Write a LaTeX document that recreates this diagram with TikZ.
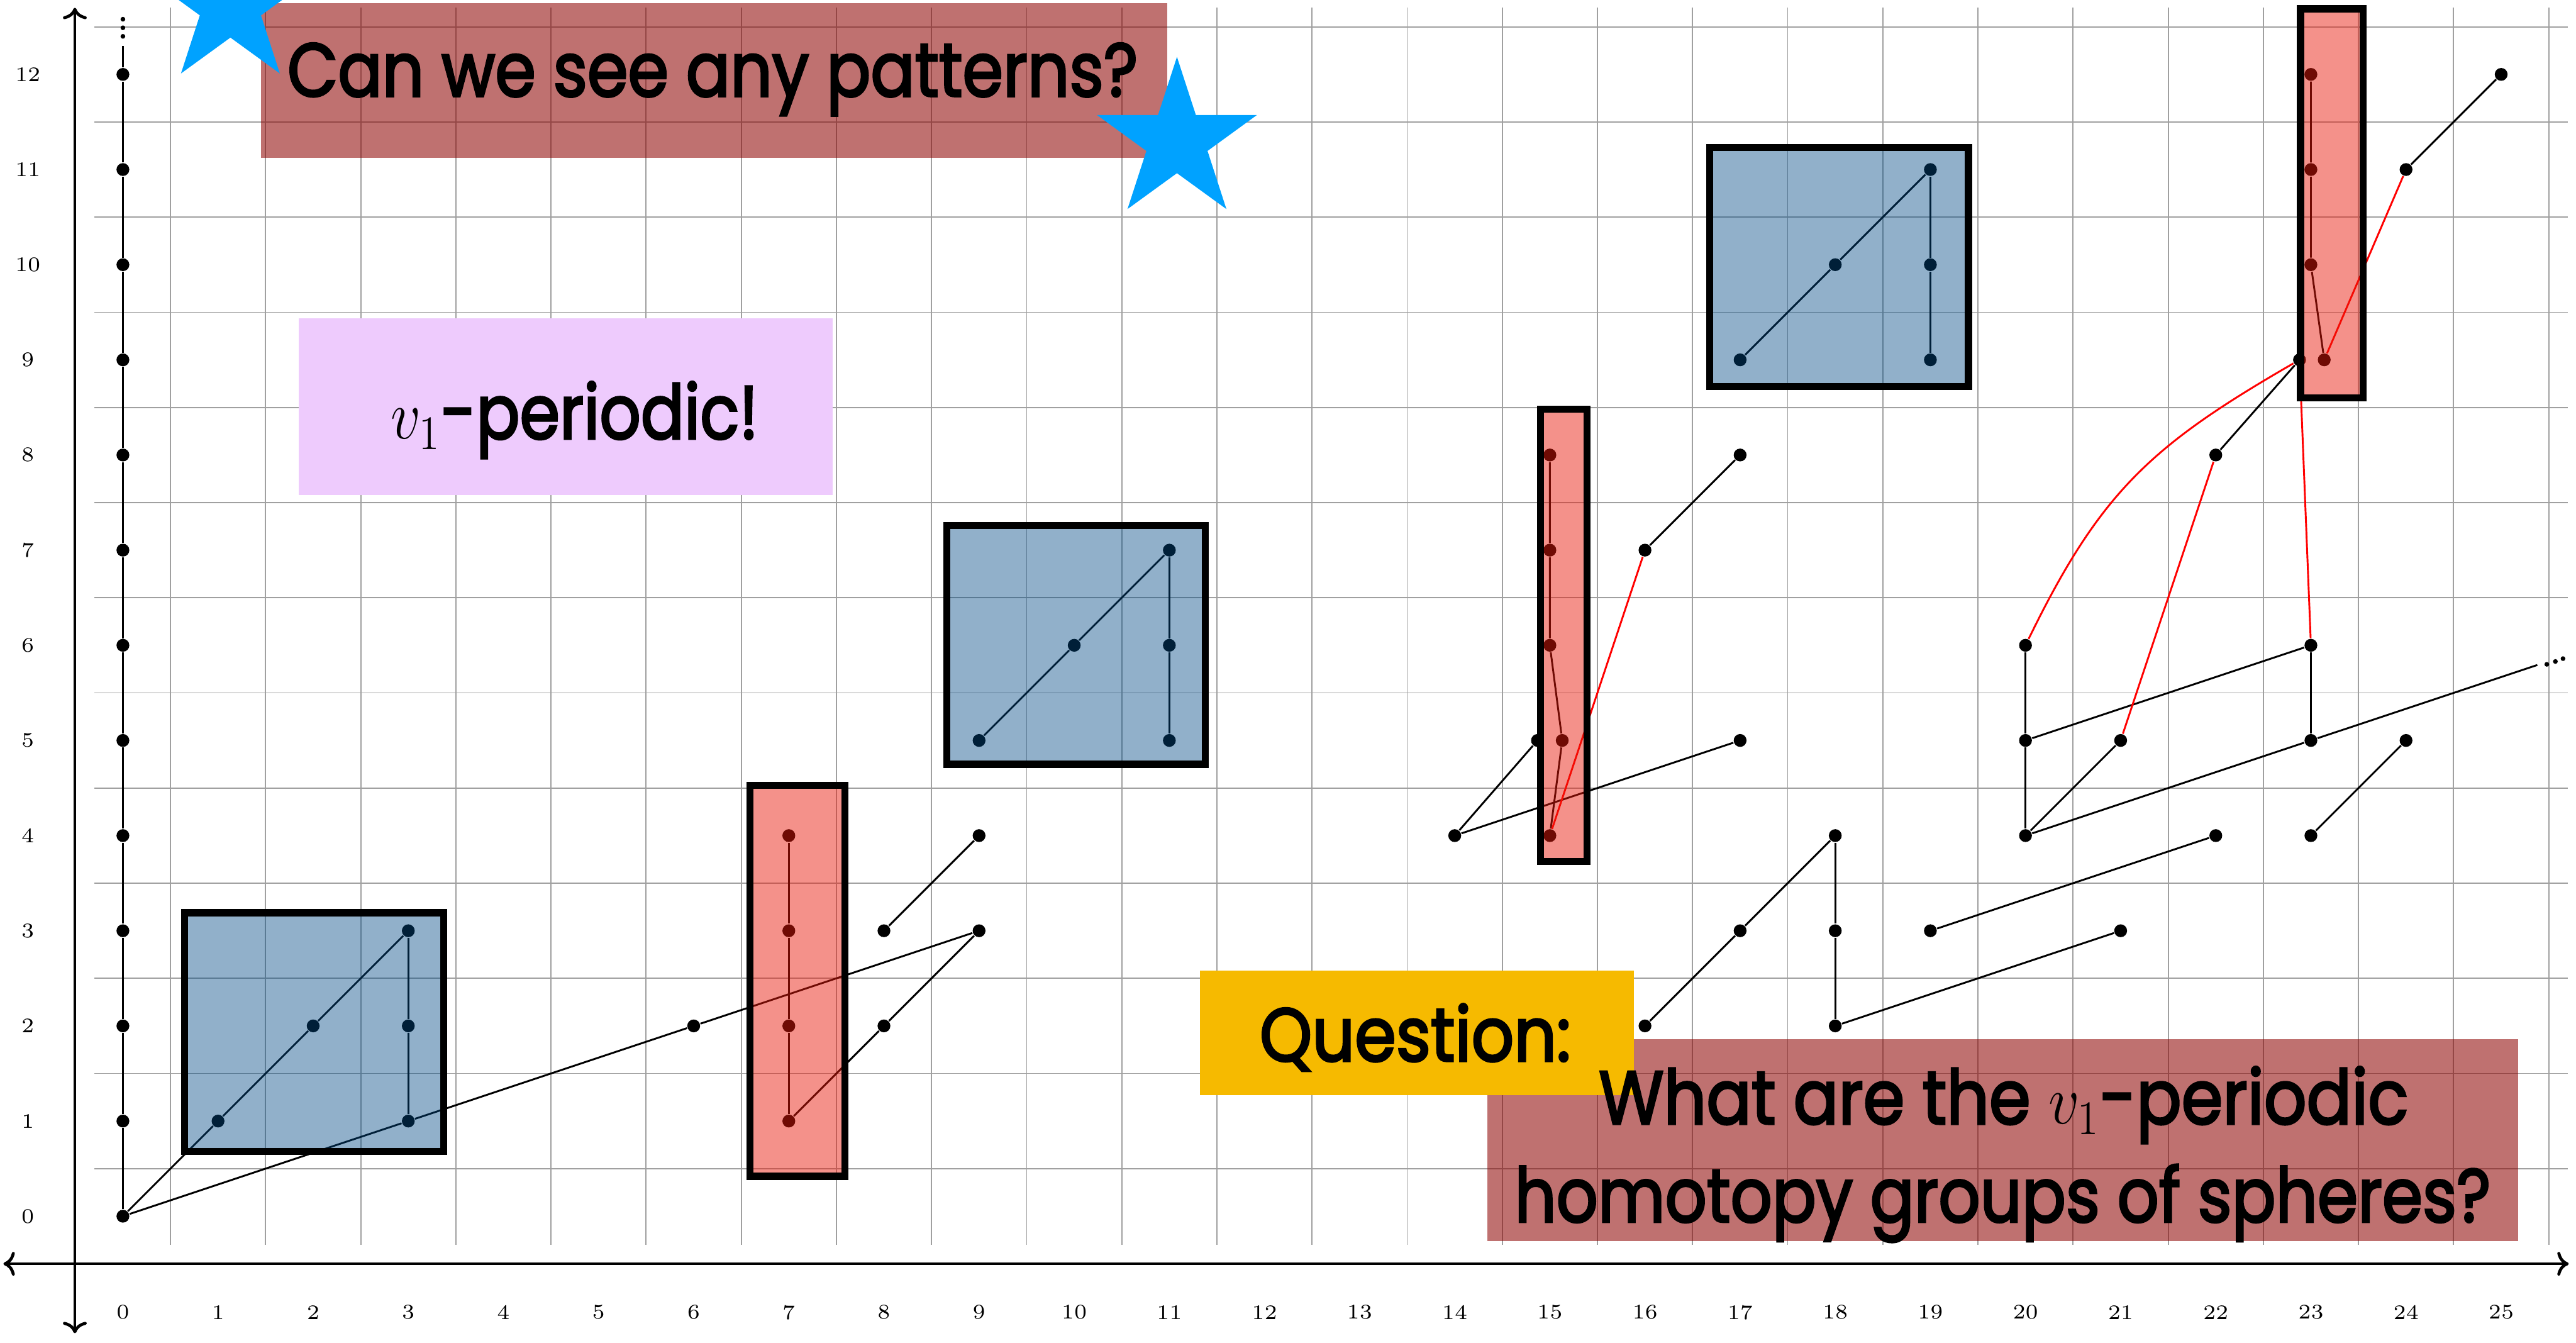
\documentclass[tikz,border=0pt]{standalone}
\usepackage{fontspec}
\usepackage{graphicx}
\newfontfamily\popfont{Poppins}[FakeBold=3]
\usetikzlibrary{arrows.meta}
\definecolor{boxblue}{RGB}{0,72,132}
\definecolor{boxred}{RGB}{233,25,10}
\definecolor{qbrown}{RGB}{140,2,0}
\definecolor{lav}{RGB}{238,203,253}
\definecolor{qyellow}{RGB}{246,186,0}
\definecolor{starblue}{RGB}{0,162,255}
\definecolor{gridgray}{RGB}{160,160,160}
\newcommand{\bigtxt}[2]{\resizebox{#1}{\height}{\popfont\fontsize{22.5}{26}\selectfont #2}}
\begin{document}
\begin{tikzpicture}[
  dot/.style={circle,fill=black,inner sep=0pt,minimum size=0.135cm},
  sdot/.style={circle,fill=black,inner sep=0pt,minimum size=0.05cm},
  edge/.style={line width=0.55pt},
  redge/.style={line width=0.55pt,red},
  axis/.style={line width=0.9pt,{Computer Modern Rightarrow[length=1.2mm,width=2.5mm]}-{Computer Modern Rightarrow[length=1.2mm,width=2.5mm]}},
  gridline/.style={gridgray,line width=0.35pt},
  tick/.style={inner sep=0pt,font=\fontsize{6.2}{7}\selectfont},
  bluebox/.style={fill=boxblue,fill opacity=0.43,draw=black,draw opacity=1,line width=0.075cm},
  redbox/.style={fill=boxred,fill opacity=0.48,draw=black,draw opacity=1,line width=0.075cm},
  brownbox/.style={fill=qbrown,fill opacity=0.56},
  txt/.style={anchor=base,inner sep=0pt}
]
\useasboundingbox (-1.292,-1.328) rectangle (25.787,12.782);
\clip (-1.292,-1.328) rectangle (25.787,12.782);

% grid
\foreach \x in {0,...,25} \draw[gridline] (\x+0.5,-0.3) -- (\x+0.5,12.7);
\foreach \y in {0,...,12} \draw[gridline] (-0.3,\y+0.5) -- (25.7,\y+0.5);

% tick labels
\foreach \x in {0,...,25} \node[tick] (xl\x) at (\x,-1.01) {\x};
\foreach \y in {0,...,12} \node[tick] (yl\y) at (-1.0,\y) {\y};

% axes
\coordinate (axL) at (-1.256,-0.5);
\coordinate (axR) at (25.71,-0.5);
\coordinate (ayB) at (-0.505,-1.23);
\coordinate (ayT) at (-0.505,12.70);
\draw[axis] (axL) -- (axR);
\draw[axis] (ayB) -- (ayT);

% dots
\foreach \k in {0,...,12} \node[dot] (a\k) at (0,\k) {};
\coordinate (atop) at (0,12.3);
\node[sdot] (vd1) at (0,12.40) {};
\node[sdot] (vd2) at (0,12.49) {};
\node[sdot] (vd3) at (0,12.58) {};
\node[dot] (b11) at (1,1) {};
\node[dot] (b22) at (2,2) {};
\node[dot] (b31) at (3,1) {};
\node[dot] (b32) at (3,2) {};
\node[dot] (b33) at (3,3) {};
\node[dot] (c62) at (6,2) {};
\node[dot] (d71) at (7,1) {};
\node[dot] (d72) at (7,2) {};
\node[dot] (d73) at (7,3) {};
\node[dot] (d74) at (7,4) {};
\node[dot] (e82) at (8,2) {};
\node[dot] (e83) at (8,3) {};
\node[dot] (e93) at (9,3) {};
\node[dot] (e94) at (9,4) {};
\node[dot] (f95) at (9,5) {};
\node[dot] (f106) at (10,6) {};
\node[dot] (f115) at (11,5) {};
\node[dot] (f116) at (11,6) {};
\node[dot] (f117) at (11,7) {};
\node[dot] (g144) at (14,4) {};
\node[dot] (g155b) at (14.87,5) {};
\node[dot] (g155r) at (15.13,5) {};
\node[dot] (g154) at (15,4) {};
\node[dot] (g156) at (15,6) {};
\node[dot] (g157) at (15,7) {};
\node[dot] (g158) at (15,8) {};
\node[dot] (g167) at (16,7) {};
\node[dot] (g175) at (17,5) {};
\node[dot] (g178) at (17,8) {};
\node[dot] (h162) at (16,2) {};
\node[dot] (h173) at (17,3) {};
\node[dot] (h184) at (18,4) {};
\node[dot] (h182) at (18,2) {};
\node[dot] (h183) at (18,3) {};
\node[dot] (h193) at (19,3) {};
\node[dot] (h213) at (21,3) {};
\node[dot] (h224) at (22,4) {};
\node[dot] (i179) at (17,9) {};
\node[dot] (i1810) at (18,10) {};
\node[dot] (i199) at (19,9) {};
\node[dot] (i1910) at (19,10) {};
\node[dot] (i1911) at (19,11) {};
\node[dot] (j204) at (20,4) {};
\node[dot] (j205) at (20,5) {};
\node[dot] (j206) at (20,6) {};
\node[dot] (j215) at (21,5) {};
\node[dot] (j234) at (23,4) {};
\node[dot] (j235) at (23,5) {};
\node[dot] (j236) at (23,6) {};
\node[dot] (j245) at (24,5) {};
\node[dot] (j228) at (22,8) {};
\node[dot] (j239b) at (22.88,9) {};
\node[dot] (j239r) at (23.14,9) {};
\node[dot] (j2310) at (23,10) {};
\node[dot] (j2311) at (23,11) {};
\node[dot] (j2312) at (23,12) {};
\node[dot] (j2411) at (24,11) {};
\node[dot] (j2512) at (25,12) {};
\coordinate (dend) at (25.38,5.793);
\node[sdot] (hd1) at (25.48,5.80) {};
\node[sdot] (hd2) at (25.57,5.83) {};
\node[sdot] (hd3) at (25.65,5.86) {};

% edges
\draw[edge] (a0)--(a1)--(a2)--(a3)--(a4)--(a5)--(a6)--(a7)--(a8)--(a9)--(a10)--(a11)--(a12)--(atop);
\draw[edge] (a0)--(b11)--(b22)--(b33);
\draw[edge] (b31)--(b32)--(b33);
\draw[edge] (a0)--(b31)--(c62)--(e93);
\draw[edge] (d71)--(d72)--(d73)--(d74);
\draw[edge] (d71)--(e82)--(e93);
\draw[edge] (e83)--(e94);
\draw[edge] (f95)--(f106)--(f117);
\draw[edge] (f115)--(f116)--(f117);
\draw[edge] (g144)--(g155b);
\draw[edge] (g144)--(g175);
\draw[edge] (g154)--(g155r)--(g156)--(g157)--(g158);
\draw[edge] (g167)--(g178);
\draw[redge] (g154)--(g167);
\draw[edge] (h162)--(h173)--(h184);
\draw[edge] (h182)--(h183)--(h184);
\draw[edge] (h182)--(h213);
\draw[edge] (h193)--(h224);
\draw[edge] (i179)--(i1810)--(i1911);
\draw[edge] (i199)--(i1910)--(i1911);
\draw[edge] (j204)--(j205)--(j206);
\draw[edge] (j204)--(j215);
\draw[edge] (j204)--(j235)--(dend);
\draw[edge] (j205)--(j236);
\draw[edge] (j235)--(j236);
\draw[edge] (j234)--(j245);
\draw[edge] (j228)--(j239b);
\draw[edge] (j239r)--(j2310)--(j2311)--(j2312);
\draw[edge] (j2411)--(j2512);
\draw[redge] (j206) to[out=64,in=-150,looseness=1.1] (j239b);
\draw[redge] (j215)--(j228);
\draw[redge] (j236)--(j239b);
\draw[redge] (j239r)--(j2411);

% highlight boxes
\draw[bluebox] (0.65,0.68) rectangle (3.37,3.19);
\draw[bluebox] (8.66,4.75) rectangle (11.38,7.26);
\draw[bluebox] (16.68,8.72) rectangle (19.40,11.23);
\draw[redbox] (6.59,0.42) rectangle (7.59,4.53);
\draw[redbox] (14.90,3.73) rectangle (15.39,8.48);
\draw[redbox] (22.89,8.60) rectangle (23.55,12.69);

% text boxes
\fill[brownbox] (1.45,11.12) rectangle (10.98,12.75);
\fill[lav] (1.85,7.58) rectangle (7.46,9.44);
\fill[brownbox] (14.34,-0.26) rectangle (25.18,1.86);
\fill[qyellow] (11.32,1.27) rectangle (15.88,2.58);

\node[txt] (t1) at (6.2,11.77) {\bigtxt{8.94cm}{Can we see any patterns?}};
\node[txt] (t2) at (4.75,8.17) {\bigtxt{3.86cm}{$v_1$-periodic!}};
\node[txt] (t3) at (13.585,1.63) {\bigtxt{3.27cm}{Question:}};
\node[txt] (t4) at (19.77,0.97) {\bigtxt{8.51cm}{What are the $v_1$-periodic}};
\node[txt] (t5) at (19.76,-0.06) {\bigtxt{10.26cm}{homotopy groups of spheres?}};

% stars
\fill[starblue,shift={(1.13,12.725)}] (90:0.884) -- (126:0.338) -- (162:0.884) -- (198:0.338) -- (234:0.884) -- (270:0.338) -- (306:0.884) -- (342:0.338) -- (18:0.884) -- (54:0.338) -- cycle;
\fill[starblue,shift={(11.08,11.30)}] (90:0.884) -- (126:0.338) -- (162:0.884) -- (198:0.338) -- (234:0.884) -- (270:0.338) -- (306:0.884) -- (342:0.338) -- (18:0.884) -- (54:0.338) -- cycle;
\end{tikzpicture}
\end{document}
